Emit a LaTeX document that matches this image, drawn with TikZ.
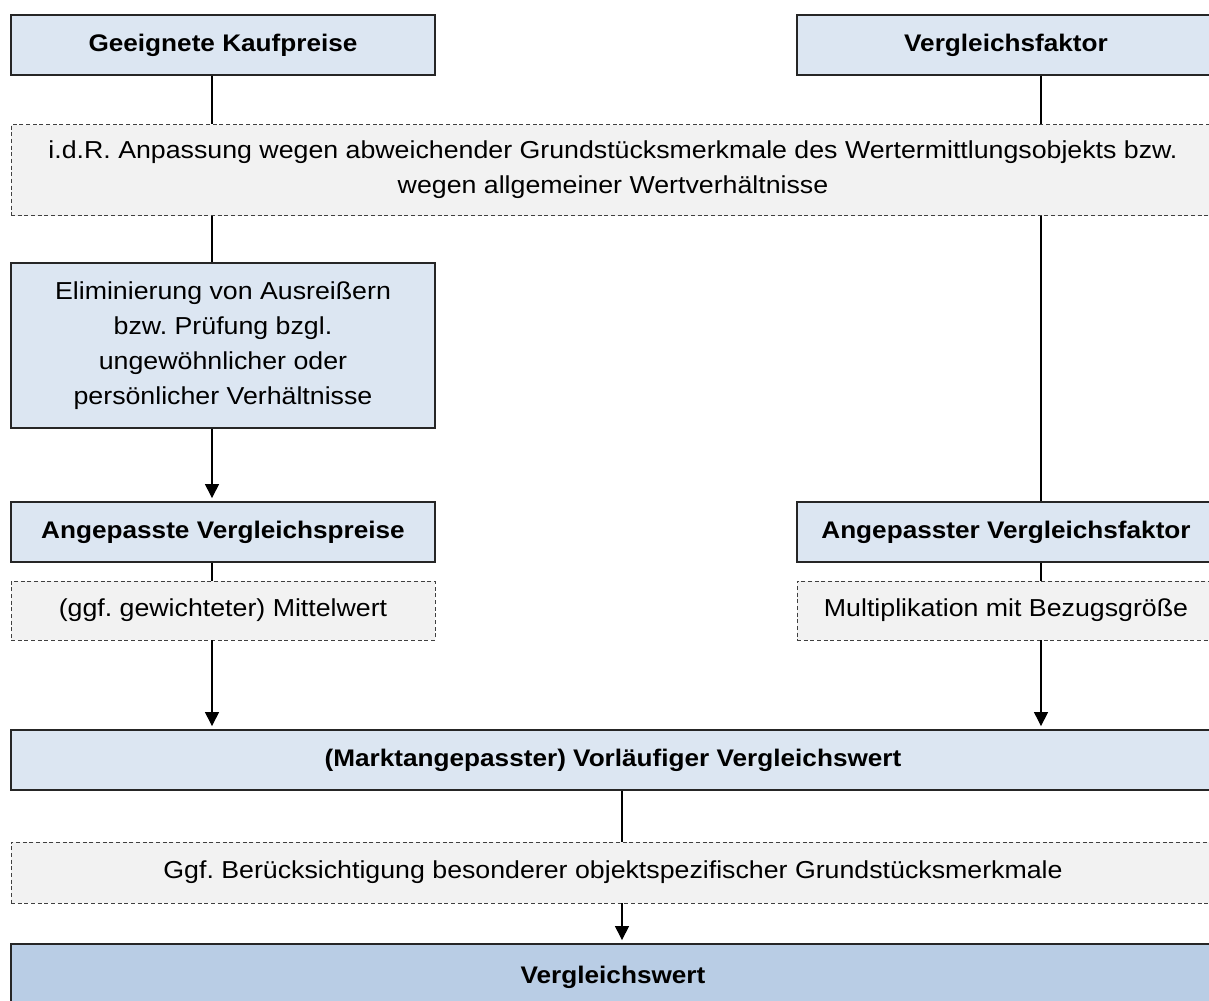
\documentclass[tikz,border=0pt]{standalone}
\usepackage{fontspec}
\setmainfont[FakeStretch=1.09]{Liberation Sans}
\usetikzlibrary{arrows.meta}
\definecolor{lblue}{HTML}{DCE6F2}
\definecolor{dblue}{HTML}{B9CDE5}
\definecolor{lgray}{HTML}{F2F2F2}
\definecolor{bord}{HTML}{262626}
\definecolor{dbord}{HTML}{404040}
\tikzset{
  solidbox/.style={draw=bord, line width=0.9pt, fill=lblue, inner sep=0pt, align=center, font=\fontsize{18}{26.3}\selectfont\bfseries},
  plainbox/.style={solidbox, font=\fontsize{18.4}{26.3}\selectfont},
  dashbox/.style={draw=dbord, line width=0.7pt, dash pattern=on 3pt off 2pt, fill=lgray, inner sep=0pt, align=center, font=\fontsize{18.4}{26.3}\selectfont},
  conn/.style={draw=black, line width=0.9pt},
  arr/.style={conn, -{Triangle[width=10.5pt,length=10.5pt]}, shorten >=2.5pt},
}
\begin{document}
\frenchspacing
\begin{tikzpicture}[x=0.75pt,y=-0.75pt]
\useasboundingbox (0,0) rectangle (1209,1000);
\fill[white] (0,0) rectangle (1209,1000);
\coordinate (lx) at (212,0);
\coordinate (rx) at (1041,0);
\coordinate (mx) at (622,0);
\node[solidbox, minimum width=318pt, minimum height=45pt] (A) at (223,45) {Geeignete Kaufpreise};
\node[solidbox, minimum width=313.5pt, minimum height=45pt] (B) at (1006,45) {Vergleichsfaktor};
\node[dashbox, minimum width=903pt, minimum height=68.25pt] (C) at (613,170) {i.d.R. Anpassung wegen abweichender Grundstücksmerkmale des Wertermittlungsobjekts bzw.\\wegen allgemeiner Wertverhältnisse};
\node[plainbox, minimum width=318pt, minimum height=123.75pt] (D) at (223,345.5) {Eliminierung von Ausreißern\\bzw. Prüfung bzgl.\\ungewöhnlicher oder\\persönlicher Verhältnisse};
\node[solidbox, minimum width=318pt, minimum height=45pt] (E) at (223,532) {Angepasste Vergleichspreise};
\node[solidbox, minimum width=313.5pt, minimum height=45pt] (F) at (1006,532) {Angepasster Vergleichsfaktor};
\node[dashbox, minimum width=318pt, minimum height=44.25pt] (G) at (223,610.5) {(ggf. gewichteter) Mittelwert};
\node[dashbox, minimum width=313.5pt, minimum height=44.25pt] (H) at (1006,610.5) {Multiplikation mit Bezugsgröße};
\node[solidbox, minimum width=903pt, minimum height=45pt] (I) at (613,760) {(Marktangepasster) Vorläufiger Vergleichswert};
\node[dashbox, minimum width=903pt, minimum height=45.75pt] (J) at (613,872.5) {Ggf. Berücksichtigung besonderer objektspezifischer Grundstücksmerkmale};
\node[solidbox, fill=dblue, minimum width=903pt, minimum height=49.5pt] (K) at (613,977) {Vergleichswert};
% left column
\draw[conn] (A.south -| lx) -- (C.north -| lx);
\draw[conn] (C.south -| lx) -- (D.north -| lx);
\draw[arr] (D.south -| lx) -- (E.north -| lx);
\draw[conn] (E.south -| lx) -- (G.north -| lx);
\draw[arr] (G.south -| lx) -- (I.north -| lx);
% right column
\draw[conn] (B.south -| rx) -- (C.north -| rx);
\draw[conn] (C.south -| rx) -- (F.north -| rx);
\draw[conn] (F.south -| rx) -- (H.north -| rx);
\draw[arr] (H.south -| rx) -- (I.north -| rx);
% middle
\draw[conn] (I.south -| mx) -- (J.north -| mx);
\draw[arr] (J.south -| mx) -- (K.north -| mx);
\end{tikzpicture}
\end{document}
